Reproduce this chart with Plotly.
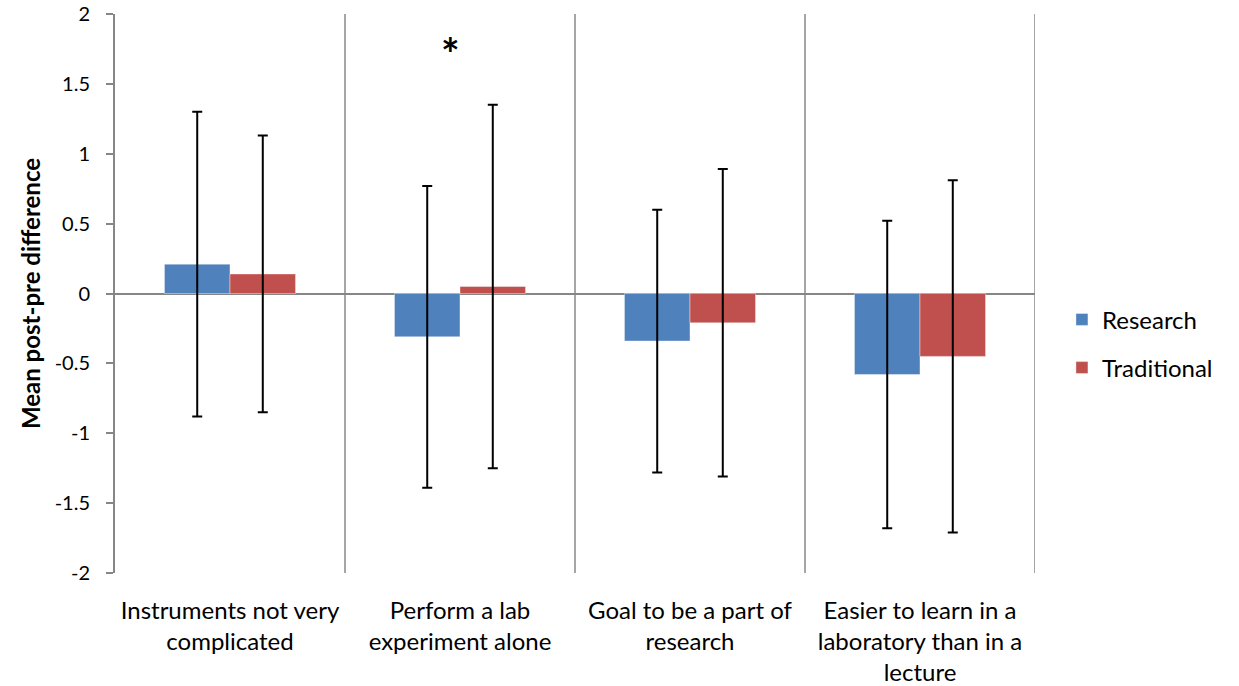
import plotly.graph_objects as go

categories = ["Instruments not very<br>complicated", "Perform a lab<br>experiment alone",
              "Goal to be a part of<br>research", "Easier to learn in a<br>laboratory than in a<br>lecture"]
research_mean = [0.21, -0.31, -0.34, -0.58]
research_sd = [1.09, 1.08, 0.94, 1.10]
traditional_mean = [0.14, 0.05, -0.21, -0.45]
traditional_sd = [0.99, 1.30, 1.10, 1.26]
ytick_vals = [-2, -1.5, -1, -0.5, 0, 0.5, 1, 1.5, 2]
ytick_text = ["-2", "-1.5", "-1", "-0.5", "0", "0.5", "1", "1.5", "2"]

FONT = "Lato"
fig = go.Figure()
fig.add_trace(go.Bar(name="Research", x=categories, y=research_mean, legendgroup="r",
                     marker=dict(color="#4F81BD", line=dict(color="rgba(255,255,255,0.4)", width=1)),
                     error_y=dict(type="data", array=research_sd, color="black", thickness=2, width=5)))
fig.add_trace(go.Bar(name="Traditional", x=categories, y=traditional_mean, legendgroup="t",
                     marker=dict(color="#C0504D", line=dict(color="rgba(255,255,255,0.4)", width=1)),
                     error_y=dict(type="data", array=traditional_sd, color="black", thickness=2, width=5)))

for i in range(len(categories)):
    fig.add_shape(type="line", xref="x", yref="y", x0=i + 0.5, x1=i + 0.5, y0=-2, y1=2,
                  line=dict(color="#A6A6A6", width=2), layer="below")

fig.add_annotation(x=1, y=1.72, xref="x", yref="y", text="<b>*</b>", showarrow=False,
                   xshift=-10, font=dict(size=44, color="black", family=FONT))

fig.update_layout(
    width=1239, height=686,
    barmode="group", bargap=0.43, bargroupgap=0,
    plot_bgcolor="white", paper_bgcolor="white",
    margin=dict(l=115, r=204, t=14, b=113, autoexpand=False),
    font=dict(family=FONT, size=24, color="black"),
    legend=dict(x=1.0293, y=0.41, xanchor="left", yanchor="middle", font=dict(size=24),
                tracegroupgap=14, itemwidth=30, traceorder="grouped"),
    xaxis=dict(showgrid=False, showline=False, ticks="", tickfont=dict(size=24),
               range=[-0.5, 3.5], ticklabelstandoff=21, automargin=False),
    yaxis=dict(range=[-2, 2], tickvals=ytick_vals, ticktext=ytick_text, showgrid=False,
               showline=True, linecolor="#868686", linewidth=2, ticks="outside", ticklen=7,
               tickcolor="#868686", tickwidth=2, zeroline=True, zerolinecolor="#868686",
               zerolinewidth=2, tickfont=dict(size=20), ticklabelstandoff=12, automargin=False,
               title=dict(text="<b>Mean post-pre difference</b>", font=dict(size=24), standoff=7)),
)

fig.write_html("out.html", config={"displayModeBar": False},
               post_script="document.body.style.margin='0';")
